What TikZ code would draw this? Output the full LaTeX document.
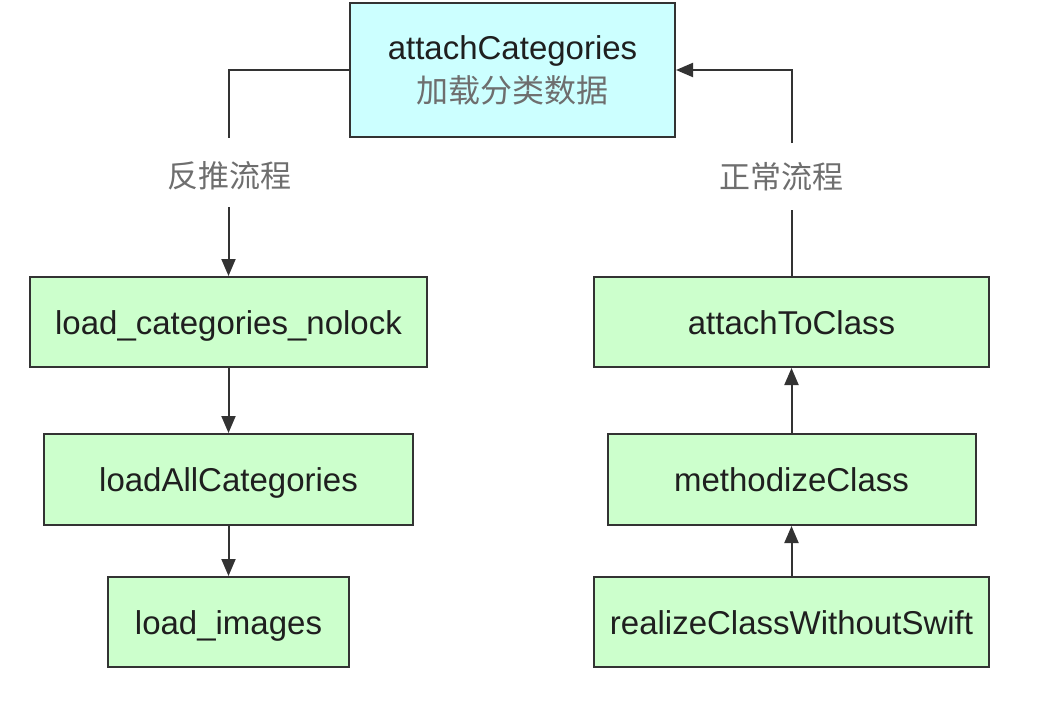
\documentclass[tikz,border=0pt]{standalone}
\usepackage{fontspec}
\setmainfont{Liberation Sans}
\newfontfamily\cjk{Noto Sans CJK SC}
\usetikzlibrary{arrows.meta}
\definecolor{cyanfill}{HTML}{CCFFFF}
\definecolor{greenfill}{HTML}{CCFFCC}
\definecolor{edge}{HTML}{333333}
\definecolor{graytext}{HTML}{6E6E6E}
\tikzset{
  box/.style={draw=edge, line width=2pt, inner sep=0pt, align=center,
    font=\fontsize{33}{40}\selectfont, text=black!88},
  gbox/.style={box, fill=greenfill, text height=30pt, text depth=6pt},
  cbox/.style={box, fill=cyanfill},
  flowlabel/.style={inner sep=0pt, text=graytext, font=\cjk\fontsize{31}{36}\selectfont},
  conn/.style={draw=edge, line width=2pt},
  arr/.style={conn, -{Triangle[length=17pt,width=14pt]}}
}
\begin{document}
\begin{tikzpicture}[x=1pt,y=-1pt]
\useasboundingbox (0,0) rectangle (1038,718);
\fill[white] (0,0) rectangle (1038,718);

\node[cbox, minimum width=325pt, minimum height=134pt] (top) at (512.5,70)
  {attachCategories\\[3pt]{\cjk\fontsize{32}{38}\selectfont\color{graytext}加载分类数据}};

\node[gbox, minimum width=397pt, minimum height=90pt] (lcn) at (228.5,322) {load\_categories\_nolock};
\node[gbox, minimum width=369pt, minimum height=91pt] (lac) at (228.5,479.5) {loadAllCategories};
\node[gbox, minimum width=241pt, minimum height=90pt] (li) at (228.5,622) {load\_images};

\node[gbox, minimum width=395pt, minimum height=90pt] (atc) at (791.5,322) {attachToClass};
\node[gbox, minimum width=368pt, minimum height=91pt] (mc) at (791.5,479.5) {methodizeClass};
\node[gbox, minimum width=395pt, minimum height=90pt] (rc) at (791.5,622) {realizeClassWithoutSwift};

\node[flowlabel] (l1) at (229,176) {反推流程};
\node[flowlabel] (l2) at (781,177) {正常流程};

\coordinate (c1) at (228.5,138);
\coordinate (c2) at (228.5,207);
\coordinate (c3) at (791.5,210);
\coordinate (c4) at (791.5,143);

\draw[conn] (top.west) -| (c1);
\draw[arr] (c2) -- (lcn.north);
\draw[arr] (lcn.south) -- (lac.north);
\draw[arr] (lac.south) -- (li.north);

\draw[conn] (atc.north) -- (c3);
\draw[arr] (c4) |- (top.east);
\draw[arr] (mc.north |- rc.north) -- (mc.south);
\draw[arr] (mc.north) -- (atc.south);
\end{tikzpicture}
\end{document}
